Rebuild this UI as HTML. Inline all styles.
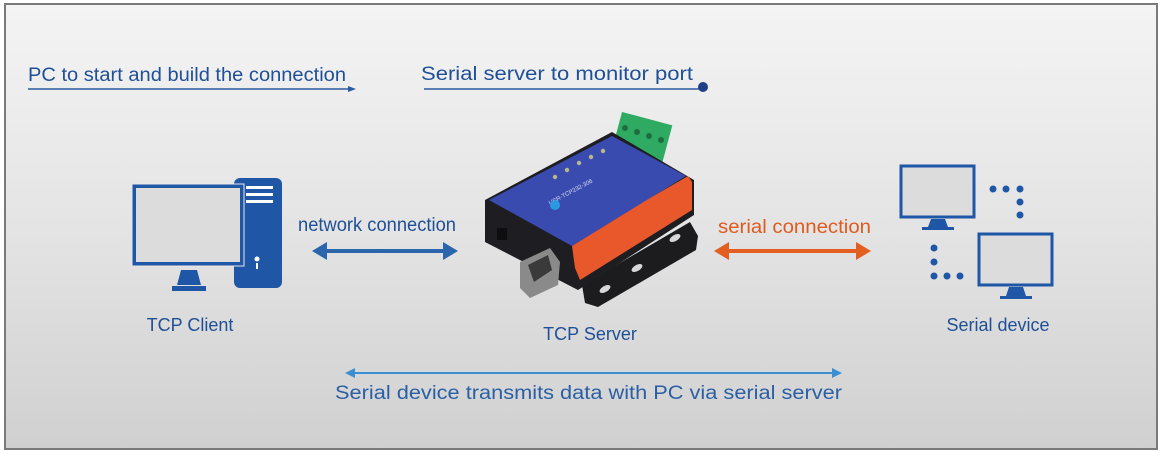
<!DOCTYPE html>
<html><head><meta charset="utf-8"><style>
html,body{margin:0;padding:0;width:1165px;height:455px;overflow:hidden;background:#fff}
svg{display:block}
text{font-family:"Liberation Sans",Arial,sans-serif}
</style></head><body>
<svg width="1165" height="455" viewBox="0 0 1165 455" xmlns="http://www.w3.org/2000/svg">
<defs>
<linearGradient id="bg" x1="0" y1="0" x2="0" y2="1">
<stop offset="0" stop-color="#f4f4f4"/><stop offset="0.5" stop-color="#e4e4e4"/><stop offset="1" stop-color="#d0d0d0"/>
</linearGradient>
</defs>
<rect x="5" y="4" width="1152" height="445" fill="url(#bg)" stroke="#7a7a7a" stroke-width="2"/>

<!-- top labels -->
<text x="28" y="81" font-size="19" fill="#1f4f96" textLength="318" lengthAdjust="spacingAndGlyphs">PC to start and build the connection</text>
<line x1="28" y1="89" x2="350" y2="89" stroke="#2a5aa0" stroke-width="1.6"/>
<polygon points="348,86 356,89 348,92" fill="#2a5aa0"/>
<text x="421" y="80" font-size="19" fill="#1f4f96" textLength="272" lengthAdjust="spacingAndGlyphs">Serial server to monitor port</text>
<line x1="424" y1="89" x2="700" y2="89" stroke="#2a5aa0" stroke-width="1.6"/>
<circle cx="703" cy="87" r="5" fill="#1f3f86"/>

<!-- PC -->
<rect x="234" y="178" width="48" height="110" rx="6" fill="#1f56a6"/>
<rect x="246" y="186" width="27" height="3" fill="#fff"/>
<rect x="246" y="193" width="27" height="3" fill="#fff"/>
<rect x="246" y="200" width="27" height="3" fill="#fff"/>
<circle cx="257" cy="259" r="2.5" fill="#fff"/><rect x="256" y="263" width="2" height="6" fill="#fff"/>
<rect x="134" y="186" width="108" height="78" fill="#dcdcdc" stroke="#1f56a6" stroke-width="4" />
<rect x="132" y="184" width="112" height="82" fill="none" stroke="#e8e8e8" stroke-width="1"/>
<polygon points="181,270 197,270 201,285 177,285" fill="#1f56a6"/>
<rect x="172" y="286" width="34" height="5" fill="#1f56a6"/>
<text x="190" y="331" font-size="18" fill="#1f4f96" text-anchor="middle">TCP Client</text>

<!-- network connection -->
<text x="298" y="231" font-size="19" fill="#1f4f96" textLength="158" lengthAdjust="spacingAndGlyphs">network connection</text>
<line x1="322" y1="251" x2="448" y2="251" stroke="#2b65ab" stroke-width="4"/>
<polygon points="312,251 327,242 327,260" fill="#2b65ab"/>
<polygon points="458,251 443,242 443,260" fill="#2b65ab"/>

<!-- serial connection -->
<text x="718" y="233" font-size="19" fill="#e05a1e" textLength="153" lengthAdjust="spacingAndGlyphs">serial connection</text>
<line x1="724" y1="251" x2="860" y2="251" stroke="#e35f1f" stroke-width="4"/>
<polygon points="714,251 729,242 729,260" fill="#e35f1f"/>
<polygon points="871,251 856,242 856,260" fill="#e35f1f"/>

<!-- device -->
<polygon points="582,285 690,222 698,236 696,250 598,307 585,303" fill="#1c1c1e"/>
<ellipse cx="675" cy="238" rx="6" ry="3" fill="#d8d8d8" transform="rotate(-30 675 238)"/>
<ellipse cx="637" cy="268" rx="6" ry="3" fill="#d8d8d8" transform="rotate(-30 637 268)"/>
<ellipse cx="605" cy="289" rx="6" ry="3" fill="#d8d8d8" transform="rotate(-30 605 289)"/>
<rect x="616" y="118" width="52" height="40" fill="#2faa62" transform="rotate(15 642 138)"/>
<g fill="#1d6e3d"><circle cx="625" cy="128" r="3"/><circle cx="637" cy="132" r="3"/><circle cx="649" cy="136" r="3"/><circle cx="661" cy="140" r="3"/></g>
<polygon points="485,200 612,132 694,180 694,215 578,290 485,242" fill="#1e1e22"/>
<polygon points="489,200 612,136 686,176 572,246" fill="#3a4bb0"/>
<polygon points="572,246 650,198 688,176 692,182 692,210 580,280 575,268" fill="#e9582a"/>
<g fill="#b9b98a"><circle cx="555" cy="177" r="2.2"/><circle cx="567" cy="170" r="2.2"/><circle cx="579" cy="163" r="2.2"/><circle cx="591" cy="157" r="2.2"/><circle cx="603" cy="151" r="2.2"/></g>
<text x="550" y="205" font-size="6" fill="#dde" transform="rotate(-28 550 205)">USR-TCP232-306</text>
<circle cx="555" cy="205" r="5" fill="#2a9ae0"/>
<rect x="497" y="228" width="10" height="12" fill="#0e0e10"/>
<polygon points="520,262 550,248 560,262 558,285 530,298 520,288" fill="#8a8a8a"/>
<polygon points="528,265 548,255 552,270 534,282" fill="#3a3a3a"/>
<text x="590" y="340" font-size="18" fill="#1f4f96" text-anchor="middle">TCP Server</text>

<!-- serial devices -->
<rect x="901" y="166" width="73" height="51" fill="#dcdcdc" stroke="#1f56a6" stroke-width="3"/>
<polygon points="931,219 945,219 948,227 928,227" fill="#1f56a6"/>
<rect x="922" y="227" width="32" height="3" fill="#1f56a6"/>
<rect x="979" y="234" width="73" height="51" fill="#dcdcdc" stroke="#1f56a6" stroke-width="3"/>
<polygon points="1009,287 1023,287 1026,296 1006,296" fill="#1f56a6"/>
<rect x="1000" y="296" width="32" height="3" fill="#1f56a6"/>
<g fill="#1f56a6">
<circle cx="993" cy="189" r="3.5"/><circle cx="1006" cy="189" r="3.5"/><circle cx="1020" cy="189" r="3.5"/><circle cx="1020" cy="202" r="3.5"/><circle cx="1020" cy="215" r="3.5"/>
<circle cx="934" cy="248" r="3.5"/><circle cx="934" cy="262" r="3.5"/><circle cx="934" cy="276" r="3.5"/><circle cx="947" cy="276" r="3.5"/><circle cx="960" cy="276" r="3.5"/>
</g>
<text x="998" y="331" font-size="18" fill="#1f4f96" text-anchor="middle">Serial device</text>

<!-- bottom -->
<line x1="352" y1="373" x2="835" y2="373" stroke="#3a8fd2" stroke-width="2"/>
<polygon points="345,373 355,368 355,378" fill="#3a8fd2"/>
<polygon points="842,373 832,368 832,378" fill="#3a8fd2"/>
<text x="335" y="399" font-size="19" fill="#2a5fa5" textLength="507" lengthAdjust="spacingAndGlyphs">Serial device transmits data with PC via serial server</text>
</svg>
</body></html>
